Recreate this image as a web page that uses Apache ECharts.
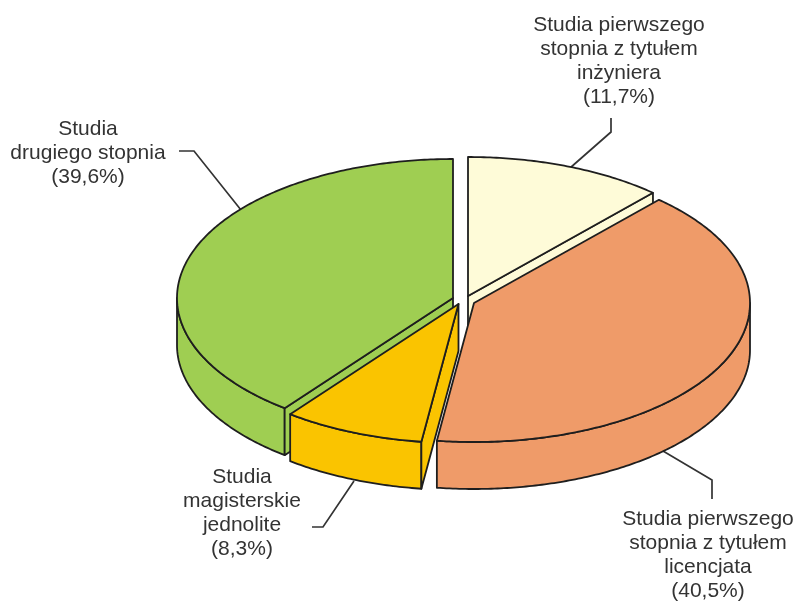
<!DOCTYPE html>
<html><head><meta charset="utf-8">
<style>html,body{margin:0;padding:0;background:#fff}#c{width:796px;height:601px}</style>
<script src="https://cdn.jsdelivr.net/npm/echarts@6/dist/echarts.min.js"></script>
</head><body><div id="c"></div>
<script>
const categories = [
  'Studia pierwszego\nstopnia z tytułem\ninżyniera',
  'Studia pierwszego\nstopnia z tytułem\nlicencjata',
  'Studia\nmagisterskie\njednolite',
  'Studia\ndrugiego stopnia'
];
const shares = [11.7, 40.5, 8.3, 39.6];
const colors = ['#FEFBD8', '#EF9B69', '#FAC400', '#9FCE52'];

// layout, separate from the data
const centres = [[468, 296], [474, 303], [458.5, 304], [453, 298]];
const layers = [1, 2, 3, 1];
const RX = 276, RY = 139, DEPTH = 47;
const labelPos = [[619, 13], [708, 507], [242, 465], [88, 117]];
const leaders = [
  [[570, 168], [611, 132], [611, 118]],
  [[663, 451], [712, 480], [712, 499]],
  [[354, 481], [323, 527], [312, 527]],
  [[179, 151], [194, 151], [241, 210]]
];
const INK = '#1e1e1e';
const total = shares.reduce((a, b) => a + b, 0);
const rad = d => d * Math.PI / 180;

function renderSlice(params, api) {
  const i = params.dataIndex;
  let before = 0;
  for (let k = 0; k < i; k++) before += shares[k];
  const a0 = before / total * 360, a1 = (before + api.value(0)) / total * 360;
  const [cx, cy] = centres[i];
  const P = (t, d) => [cx + RX * Math.sin(rad(t)), cy - RY * Math.cos(rad(t)) + (d || 0)];
  const arc = (s, e, d) => {
    const n = Math.max(2, Math.ceil(Math.abs(e - s) * 1.5)), out = [];
    for (let j = 0; j <= n; j++) out.push(P(s + (e - s) * j / n, d));
    return out;
  };
  const z = layers[i];
  const style = { fill: colors[i], stroke: INK, lineWidth: 1.8, lineJoin: 'round' };
  const poly = (points, order) => ({ type: 'polygon', z2: z * 10 + order, shape: { points }, style });
  const kids = [];
  const s = Math.max(a0, 90), e = Math.min(a1, 270);
  if (s < e) kids.push(poly(arc(s, e, 0).concat(arc(e, s, DEPTH)), 0));
  const face = t => poly([[cx, cy], P(t, 0), P(t, DEPTH), [cx, cy + DEPTH]], 0);
  if (Math.sin(rad(a1)) > 0.01) kids.push(face(a1));
  if (Math.sin(rad(a0)) < -0.01) kids.push(face(a0));
  kids.push(poly([[cx, cy]].concat(arc(a0, a1, 0)), 1));
  kids.push({ type: 'polyline', z2: 5, shape: { points: leaders[i] },
    style: { fill: null, stroke: '#333', lineWidth: 1.7 } });
  kids.push({ type: 'text', z2: 50, x: labelPos[i][0], y: labelPos[i][1],
    style: {
      text: categories[i] + '\n(' + String(api.value(0)).replace('.', ',') + '%)',
      fill: '#333', font: '21px "Liberation Sans", Arial, sans-serif',
      align: 'center', verticalAlign: 'top', lineHeight: 24.2
    } });
  return { type: 'group', children: kids };
}

const chart = echarts.init(document.getElementById('c'), null, { renderer: 'canvas' });
chart.setOption({
  animation: false,
  backgroundColor: '#fff',
  series: [{ type: 'custom', coordinateSystem: 'none', data: shares, renderItem: renderSlice }]
});
</script></body></html>
